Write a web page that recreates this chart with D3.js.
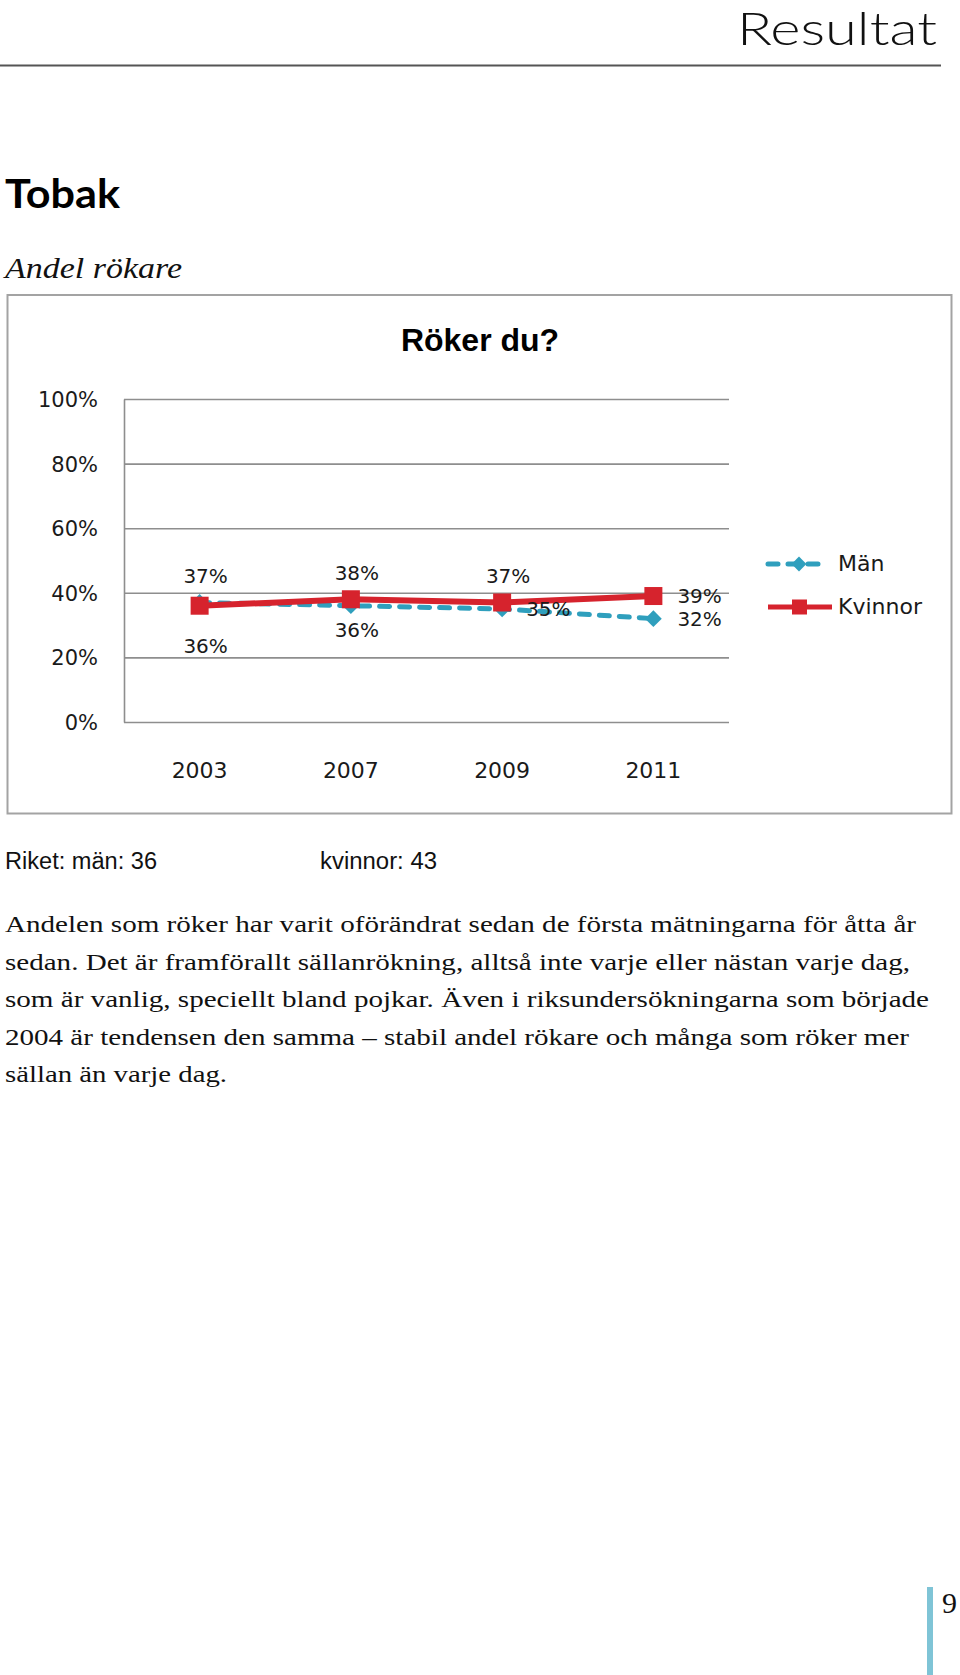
<!DOCTYPE html>
<html>
<head>
<meta charset="utf-8">
<script src="https://cdn.jsdelivr.net/npm/d3@7"></script>
<style>
  html, body { margin: 0; padding: 0; background: #fff; }
  svg { display: block; }
</style>
</head>
<body>
<svg id="page" width="960" height="1675"></svg>
<script>
// ---------- data ----------
const categories = ["2003", "2007", "2009", "2011"];
const manValues = [0.37, 0.36, 0.35, 0.32];
const kvinnorValues = [0.36, 0.38, 0.37, 0.39];
const seriesNames = ["Män", "Kvinnor"];
const yTickValues = [0, 0.2, 0.4, 0.6, 0.8, 1.0];
const manLabelPlacement = ["above", "below", "right", "right"];
const kvinnorLabelPlacement = ["belowFar", "above", "above", "right"];
const chartTitle = "Röker du?";
const pageHeader = "Resultat";
const sectionTitle = "Tobak";
const subTitle = "Andel rökare";
const riketMan = "Riket: män: 36";
const riketKvinnor = "kvinnor: 43";
const paragraphLines = [
  "Andelen som röker har varit oförändrat sedan de första mätningarna för åtta år",
  "sedan. Det är framförallt sällanrökning, alltså inte varje eller nästan varje dag,",
  "som är vanlig, speciellt bland pojkar. Även i riksundersökningarna som började",
  "2004 är tendensen den samma – stabil andel rökare och många som röker mer",
  "sällan än varje dag."
];
const pageNumber = "9";

// ---------- styles ----------
const colMan = "#2f9fbd";
const colKvinnor = "#d6232d";
const svg = d3.select("#page");

// ---------- page header ----------
svg.append("text")
  .attr("x", 937).attr("y", 45)
  .attr("text-anchor", "end")
  .attr("font-family", "Lato, 'DejaVu Sans', sans-serif")
  .attr("font-weight", 300)
  .attr("font-size", 45)
  .attr("textLength", 200).attr("lengthAdjust", "spacingAndGlyphs")
  .attr("fill", "#111")
  .text(pageHeader);
svg.append("line")
  .attr("x1", 0).attr("x2", 941).attr("y1", 65.5).attr("y2", 65.5)
  .attr("stroke", "#555").attr("stroke-width", 2);

svg.append("text")
  .attr("x", 5).attr("y", 208)
  .attr("font-family", "Lato, 'DejaVu Sans', sans-serif")
  .attr("font-weight", 700)
  .attr("font-size", 40)
  .attr("textLength", 115).attr("lengthAdjust", "spacingAndGlyphs")
  .attr("fill", "#000")
  .text(sectionTitle);

svg.append("text")
  .attr("x", 5).attr("y", 278)
  .attr("font-family", "'Liberation Serif', serif")
  .attr("font-style", "italic")
  .attr("font-size", 30)
  .attr("textLength", 177).attr("lengthAdjust", "spacingAndGlyphs")
  .attr("fill", "#111")
  .text(subTitle);

// ---------- chart box ----------
svg.append("rect")
  .attr("x", 7.5).attr("y", 295).attr("width", 944).attr("height", 518.5)
  .attr("fill", "#fff").attr("stroke", "#a3a3a3").attr("stroke-width", 2);

svg.append("text")
  .attr("x", 480).attr("y", 351)
  .attr("text-anchor", "middle")
  .attr("font-family", "'Liberation Sans', Arial, sans-serif")
  .attr("font-weight", 700)
  .attr("font-size", 32)
  .attr("fill", "#000")
  .text(chartTitle);

// ---------- scales ----------
const plotLeft = 124, plotRight = 729, plotTop = 399, plotBottom = 722;
const x = d3.scaleBand().domain(categories).range([plotLeft, plotRight]);
const y = d3.scaleLinear().domain([0, 1]).range([plotBottom, plotTop]);
const cx = c => x(c) + x.bandwidth() / 2;

// gridlines via axis
const gridAxis = d3.axisLeft(y).tickValues(yTickValues)
  .tickSize(-(plotRight - plotLeft)).tickFormat("");
const gGrid = svg.append("g").attr("transform", `translate(${plotLeft},0)`).call(gridAxis);
gGrid.select(".domain").remove();
gGrid.selectAll(".tick line").attr("stroke", "#8e8e8e").attr("stroke-width", 1.6);

// y axis line + labels
const yAxis = d3.axisLeft(y).tickValues(yTickValues).tickSize(0).tickPadding(26)
  .tickFormat(d3.format(".0%"));
const gY = svg.append("g").attr("transform", `translate(${plotLeft},0)`).call(yAxis);
gY.select(".domain").attr("stroke", "#8e8e8e").attr("stroke-width", 1.6);
gY.selectAll(".tick text")
  .attr("font-family", "'DejaVu Sans', sans-serif")
  .attr("font-size", 21).attr("fill", "#1a1a1a")
  .attr("dy", "0.36em");

// x axis labels
const xAxis = d3.axisBottom(x).tickSize(0).tickPadding(40);
const gX = svg.append("g").attr("transform", `translate(0,${plotBottom})`).call(xAxis);
gX.select(".domain").remove();
gX.selectAll(".tick text")
  .attr("font-family", "'DejaVu Sans', sans-serif")
  .attr("font-size", 22).attr("fill", "#1a1a1a");

// ---------- series ----------
const manData = categories.map((c, i) => ({ c, v: manValues[i], p: manLabelPlacement[i] }));
const kvData = categories.map((c, i) => ({ c, v: kvinnorValues[i], p: kvinnorLabelPlacement[i] }));
const line = d3.line().x(d => cx(d.c)).y(d => y(d.v));

svg.append("path").datum(manData)
  .attr("d", line).attr("fill", "none")
  .attr("stroke", colMan).attr("stroke-width", 5)
  .attr("stroke-dasharray", "10,10").attr("stroke-linecap", "round");
const diamond = d3.symbol().type(d3.symbolSquare).size(140);
svg.selectAll(".man-pt").data(manData).enter().append("path")
  .attr("transform", d => `translate(${cx(d.c)},${y(d.v)}) rotate(45)`)
  .attr("d", diamond).attr("fill", colMan);

svg.append("path").datum(kvData)
  .attr("d", line).attr("fill", "none")
  .attr("stroke", colKvinnor).attr("stroke-width", 6);
svg.selectAll(".kv-pt").data(kvData).enter().append("rect")
  .attr("x", d => cx(d.c) - 9).attr("y", d => y(d.v) - 9)
  .attr("width", 18).attr("height", 18).attr("fill", colKvinnor);

// ---------- data labels ----------
const pct = d3.format(".0%");
function labelAttrs(sel) {
  sel.attr("font-family", "'DejaVu Sans', sans-serif")
    .attr("font-size", 20).attr("fill", "#1a1a1a")
    .attr("x", d => d.p === "right" ? cx(d.c) + 24 : cx(d.c) + 6)
    .attr("y", d => {
      const py = y(d.v);
      if (d.p === "above") return py - 19;
      if (d.p === "below") return py + 31;
      if (d.p === "belowFar") return py + 47;
      return py + 7;
    })
    .attr("text-anchor", d => d.p === "right" ? "start" : "middle")
    .text(d => pct(d.v));
}
svg.selectAll(".man-lbl").data(manData).enter().append("text").call(labelAttrs);
svg.selectAll(".kv-lbl").data(kvData).enter().append("text").call(labelAttrs);

// ---------- legend ----------
const legendItems = [
  { name: seriesNames[0], color: colMan, y: 564, dashed: true },
  { name: seriesNames[1], color: colKvinnor, y: 607, dashed: false }
];
legendItems.forEach(it => {
  const g = svg.append("g");
  g.append("line").attr("x1", 768).attr("x2", it.dashed ? 823 : 832)
    .attr("y1", it.y).attr("y2", it.y)
    .attr("stroke", it.color).attr("stroke-width", 5)
    .attr("stroke-dasharray", it.dashed ? "10,10" : null)
    .attr("stroke-linecap", it.dashed ? "round" : "butt");
  if (it.dashed) {
    g.append("path").attr("d", d3.symbol().type(d3.symbolSquare).size(110)())
      .attr("transform", `translate(799,${it.y}) rotate(45)`).attr("fill", it.color);
  } else {
    g.append("rect").attr("x", 792).attr("y", it.y - 7.5).attr("width", 15).attr("height", 15)
      .attr("fill", it.color);
  }
  g.append("text").attr("x", 838).attr("y", it.y + 7)
    .attr("font-family", "'DejaVu Sans', sans-serif").attr("font-size", 22)
    .attr("fill", "#1a1a1a").text(it.name);
});

// ---------- text below chart ----------
svg.append("text").attr("x", 5).attr("y", 869)
  .attr("font-family", "'Liberation Sans', Arial, sans-serif")
  .attr("font-size", 23).attr("textLength", 152).attr("lengthAdjust", "spacingAndGlyphs")
  .attr("fill", "#111").text(riketMan);
svg.append("text").attr("x", 320).attr("y", 869)
  .attr("font-family", "'Liberation Sans', Arial, sans-serif")
  .attr("font-size", 23).attr("textLength", 117).attr("lengthAdjust", "spacingAndGlyphs")
  .attr("fill", "#111").text(riketKvinnor);

const paraWidths = [911, 905, 924, 904, 222];
svg.selectAll(".para").data(paragraphLines).enter().append("text")
  .attr("x", 5).attr("y", (d, i) => 932 + i * 37.5)
  .attr("font-family", "'Liberation Serif', 'Times New Roman', serif")
  .attr("font-size", 24)
  .attr("textLength", (d, i) => paraWidths[i]).attr("lengthAdjust", "spacingAndGlyphs")
  .attr("fill", "#111")
  .text(d => d);

// ---------- page number ----------
svg.append("rect").attr("x", 927).attr("y", 1587).attr("width", 6).attr("height", 88)
  .attr("fill", "#7fc4d6");
svg.append("text").attr("x", 942).attr("y", 1613)
  .attr("font-family", "'Liberation Serif', serif").attr("font-size", 30)
  .attr("fill", "#111").text(pageNumber);
</script>
</body>
</html>
